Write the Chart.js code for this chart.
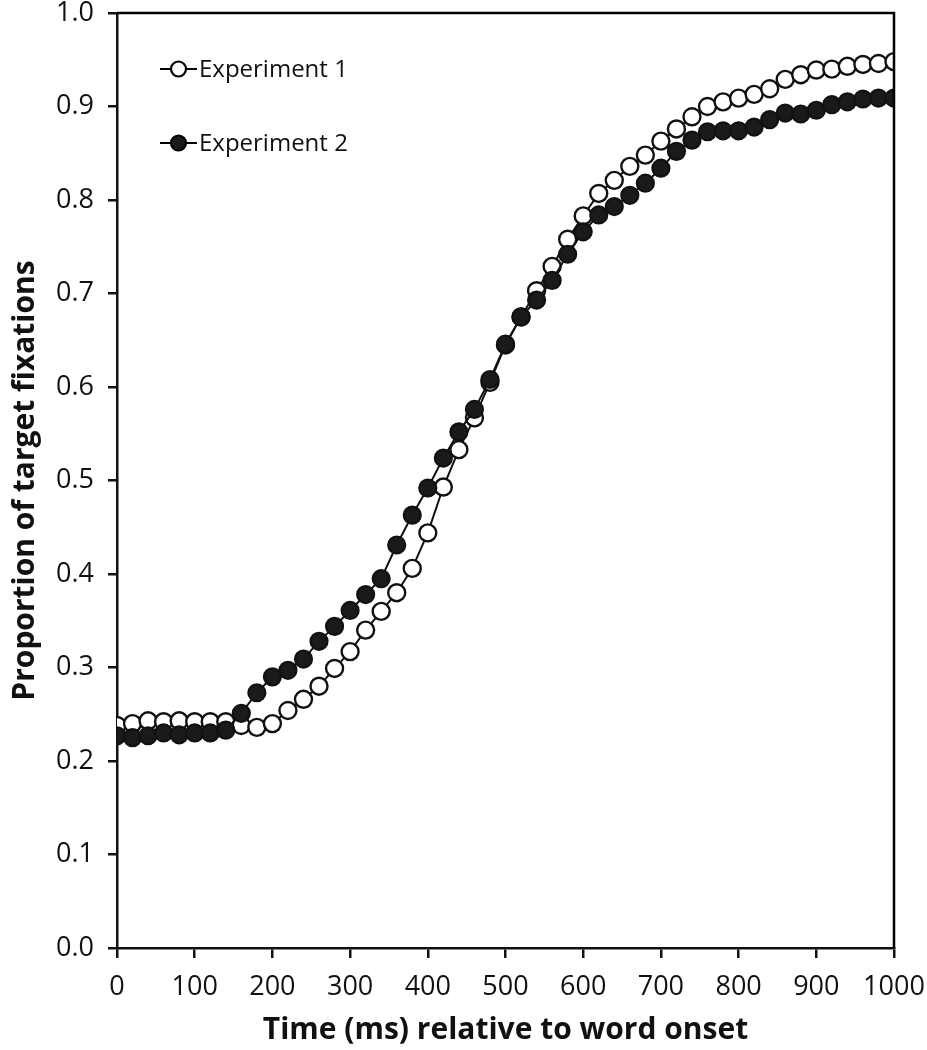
<!DOCTYPE html>
<html>
<head>
<meta charset="utf-8">
<script src="https://cdn.jsdelivr.net/npm/chart.js@4/dist/chart.umd.min.js"></script>
<style>
  html, body { margin: 0; padding: 0; background: #fff; }
  #wrap { width: 927px; height: 1050px; }
</style>
</head>
<body>
<div id="wrap"><canvas id="c" width="927" height="1050"></canvas></div>
<script>
const timeMs = [0,20,40,60,80,100,120,140,160,180,200,220,240,260,280,300,320,340,360,380,400,420,440,460,480,500,520,540,560,580,600,620,640,660,680,700,720,740,760,780,800,820,840,860,880,900,920,940,960,980,1000];
const experiment1 = [0.238,0.240,0.243,0.242,0.243,0.242,0.242,0.242,0.238,0.236,0.240,0.254,0.266,0.280,0.299,0.317,0.340,0.360,0.380,0.406,0.444,0.493,0.533,0.567,0.605,0.645,0.675,0.703,0.729,0.758,0.783,0.807,0.821,0.836,0.848,0.863,0.876,0.889,0.900,0.905,0.909,0.913,0.919,0.929,0.934,0.939,0.940,0.943,0.945,0.946,0.948];
const experiment2 = [0.227,0.225,0.227,0.230,0.228,0.230,0.230,0.233,0.251,0.273,0.290,0.297,0.309,0.328,0.344,0.361,0.378,0.395,0.431,0.463,0.492,0.524,0.552,0.576,0.608,0.646,0.675,0.693,0.714,0.742,0.766,0.784,0.793,0.805,0.818,0.834,0.852,0.864,0.873,0.874,0.874,0.878,0.886,0.893,0.892,0.896,0.902,0.905,0.908,0.909,0.909];
const seriesLabels = ["Experiment 1", "Experiment 2"];
const xTitle = "Time (ms) relative to word onset";
const yTitle = "Proportion of target fixations";

const FONT = "'Open Sans', 'Liberation Sans', sans-serif";

const boxPlugin = {
  id: 'box',
  afterDatasetsDraw(chart) {
    const {ctx, chartArea: a} = chart;
    ctx.save();
    ctx.strokeStyle = '#000';
    ctx.lineWidth = 2.5;
    ctx.beginPath();
    ctx.moveTo(a.left, a.top);
    ctx.lineTo(a.right, a.top);
    ctx.lineTo(a.right, a.bottom);
    ctx.stroke();
    ctx.restore();
  }
};

const legendPlugin = {
  id: 'customLegend',
  afterDraw(chart) {
    const ctx = chart.ctx;
    const a = chart.chartArea;
    const items = [
      {ds: chart.data.datasets[1], y: a.top + 56},
      {ds: chart.data.datasets[0], y: a.top + 130}
    ];
    ctx.save();
    items.forEach(it => {
      const x0 = a.left + 43, x1 = a.left + 80, cx = (x0 + x1) / 2;
      ctx.strokeStyle = '#000';
      ctx.lineWidth = 2;
      ctx.beginPath(); ctx.moveTo(x0, it.y); ctx.lineTo(x1, it.y); ctx.stroke();
      ctx.beginPath(); ctx.arc(cx, it.y, 7.5, 0, Math.PI * 2);
      ctx.fillStyle = it.ds.pointBackgroundColor; ctx.fill();
      ctx.lineWidth = 2.2; ctx.stroke();
      ctx.fillStyle = '#111';
      ctx.font = "24px " + FONT;
      ctx.textBaseline = 'middle';
      ctx.textAlign = 'left';
      ctx.fillText(it.ds.label, x1 + 2, it.y + 1);
    });
    ctx.restore();
  }
};

const ctx = document.getElementById('c').getContext('2d');
new Chart(ctx, {
  type: 'line',
  data: {
    datasets: [
      {
        label: seriesLabels[1],
        data: timeMs.map((t, i) => ({x: t, y: experiment2[i]})),
        borderColor: '#111',
        borderWidth: 2,
        pointRadius: 8.5,
        pointBorderWidth: 2.2,
        pointBackgroundColor: '#1a1a1a',
        pointBorderColor: '#111',
        order: 1
      },
      {
        label: seriesLabels[0],
        data: timeMs.map((t, i) => ({x: t, y: experiment1[i]})),
        borderColor: '#111',
        borderWidth: 2,
        pointRadius: 8.5,
        pointBorderWidth: 2.4,
        pointBackgroundColor: '#ffffff',
        pointBorderColor: '#111',
        order: 2
      }
    ]
  },
  options: {
    responsive: false,
    animation: false,
    layout: { autoPadding: false, padding: { top: 13, right: 33, left: 0, bottom: 0 } },
    plugins: { legend: { display: false }, tooltip: { enabled: false } },
    elements: { line: { tension: 0 } },
    scales: {
      x: {
        type: 'linear',
        min: 0, max: 1000,
        afterFit(scale) { scale.height = 102; scale.paddingLeft = 0; scale.paddingRight = 0; },
        ticks: { stepSize: 100, color: '#111', font: { family: FONT, size: 27 }, padding: 13, maxRotation: 0,
          callback: v => String(v) },
        grid: { display: true, drawOnChartArea: false, drawTicks: true, tickLength: 10, color: '#111', lineWidth: 2.5 },
        border: { display: true, color: '#111', width: 2.5 },
        title: { display: true, text: xTitle, color: '#111', font: { family: FONT, size: 30, weight: 'bold' }, padding: { top: 0, bottom: 2 } }
      },
      y: {
        min: 0, max: 1.0,
        afterFit(scale) { scale.width = 117; scale.paddingTop = 0; scale.paddingBottom = 0; },
        ticks: { stepSize: 0.1, color: '#111', font: { family: FONT, size: 27 }, padding: 14,
          callback: v => Number(v).toFixed(1) },
        grid: { display: true, drawOnChartArea: false, drawTicks: true, tickLength: 9, color: '#111', lineWidth: 2.5 },
        border: { display: true, color: '#111', width: 2.5 },
        title: { display: true, text: yTitle, color: '#111', font: { family: FONT, size: 30, weight: 'bold' }, padding: { top: 7, bottom: 0 } }
      }
    }
  },
  plugins: [boxPlugin, legendPlugin]
});
</script>
</body>
</html>
